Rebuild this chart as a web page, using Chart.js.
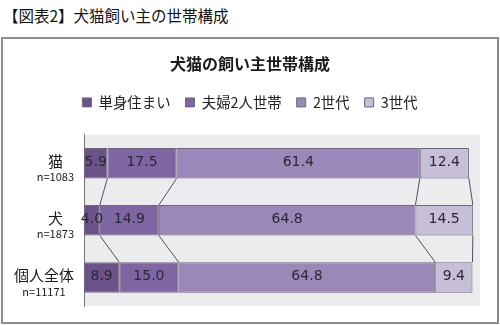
<!DOCTYPE html>
<html>
<head>
<meta charset="utf-8">
<script src="https://cdn.jsdelivr.net/npm/chart.js"></script>
<style>
  html, body { margin: 0; padding: 0; background: #fff; width: 500px; height: 325px; overflow: hidden; }
  #heading { position: absolute; left: 3px; top: 4px; font: 15.5px "Noto Sans CJK JP", sans-serif; color: #111; white-space: nowrap; }
  #frame { position: absolute; left: 1px; top: 37px; width: 494px; height: 283px; border: 2px solid #8e8e8e; }
  #wrap { position: absolute; left: 0; top: 0; width: 500px; height: 325px; }
</style>
</head>
<body>
<div id="heading">【図表2】犬猫飼い主の世帯構成</div>
<div id="frame"></div>
<div id="wrap"><canvas id="chart"></canvas></div>
<script>
// Household types of pet owners (%)
const categories  = ['猫', '犬', '個人全体'];
const sampleSizes = ['n=1083', 'n=1873', 'n=11171'];
const seriesNames = ['単身住まい', '夫婦2人世帯', '2世代', '3世代'];
const singleLiving = [5.9, 4.0, 8.9];
const coupleOnly   = [17.5, 14.9, 15.0];
const twoGen       = [61.4, 64.8, 64.8];
const threeGen     = [12.4, 14.5, 9.4];

const seriesValues = [singleLiving, coupleOnly, twoGen, threeGen];
const seriesColors = ['#6b5289', '#8065a3', '#9c88b8', '#c7bfd7'];

const JP = '"Noto Sans CJK JP", sans-serif';

// light grey plot area
const plotBackground = {
  id: 'plotBackground',
  beforeDraw(chart) {
    const { ctx, chartArea: a } = chart;
    ctx.save();
    ctx.fillStyle = '#ecebee';
    ctx.fillRect(a.left, a.top, a.right - a.left, a.bottom - a.top);
    ctx.restore();
  }
};

// connector lines between segment edges of adjacent bars
const seriesLines = {
  id: 'seriesLines',
  afterDatasetsDraw(chart) {
    const { ctx } = chart;
    ctx.save();
    ctx.strokeStyle = '#505060';
    ctx.lineWidth = 1;
    seriesValues.forEach((_, d) => {
      const els = chart.getDatasetMeta(d).data;
      for (let i = 0; i < els.length - 1; i++) {
        const a = els[i], b = els[i + 1];
        ctx.beginPath();
        ctx.moveTo(a.x, a.y + a.height / 2);
        ctx.lineTo(b.x, b.y - b.height / 2);
        ctx.stroke();
      }
    });
    ctx.restore();
  }
};

// value labels centred in each segment
const valueLabels = {
  id: 'valueLabels',
  afterDatasetsDraw(chart) {
    const { ctx } = chart;
    ctx.save();
    ctx.font = '14px "DejaVu Sans", sans-serif';
    ctx.fillStyle = '#2a2838';
    ctx.textAlign = 'center';
    ctx.textBaseline = 'middle';
    seriesValues.forEach((vals, d) => {
      chart.getDatasetMeta(d).data.forEach((el, i) => {
        ctx.fillText(vals[i].toFixed(1), (el.x + el.base) / 2, el.y - 1);
      });
    });
    ctx.restore();
  }
};

// two-line category labels: name and sample size
const categoryLabels = {
  id: 'categoryLabels',
  afterDraw(chart) {
    const { ctx, chartArea } = chart;
    const y = chart.scales.y;
    ctx.save();
    ctx.textAlign = 'center';
    ctx.textBaseline = 'middle';
    ctx.fillStyle = '#1a1a1a';
    categories.forEach((name, i) => {
      const yc = y.getPixelForValue(i);
      const mainFont = '15px ' + JP;
      const subFont = '11px ' + JP;
      ctx.font = mainFont;
      const w1 = ctx.measureText(name).width;
      ctx.font = subFont;
      const w2 = ctx.measureText(sampleSizes[i]).width;
      const cx = chartArea.left - 10 - Math.max(w1, w2) / 2;
      ctx.font = mainFont;
      ctx.fillText(name, cx, yc - 2);
      ctx.font = subFont;
      ctx.fillText(sampleSizes[i], cx, yc + 14);
    });
    ctx.restore();
  }
};

new Chart(document.getElementById('chart'), {
  type: 'bar',
  data: {
    labels: categories,
    datasets: seriesNames.map((name, d) => ({
      label: name,
      data: seriesValues[d],
      backgroundColor: seriesColors[d],
      borderColor: '#6c687c',
      borderWidth: 1,
      borderSkipped: false,
      categoryPercentage: 1,
      barPercentage: 0.535
    }))
  },
  options: {
    indexAxis: 'y',
    responsive: true,
    maintainAspectRatio: false,
    animation: false,
    layout: { padding: { left: 20, right: 20, top: 44, bottom: 19 } },
    plugins: {
      title: {
        display: true,
        text: '犬猫の飼い主世帯構成',
        color: '#1a1a1a',
        font: { family: JP, size: 16, weight: 'bold' },
        padding: { top: 10, bottom: 7 }
      },
      legend: {
        display: true,
        position: 'top',
        labels: {
          color: '#222',
          font: { family: JP, size: 14.4 },
          boxWidth: 9,
          boxHeight: 9,
          padding: 15
        }
      },
      tooltip: { enabled: false }
    },
    scales: {
      x: {
        stacked: true,
        min: 0,
        max: 100,
        position: 'top',
        ticks: { display: false },
        grid: { display: false, drawTicks: false },
        border: { display: false },
        afterFit(scale) { scale.height = 15; }
      },
      y: {
        stacked: true,
        ticks: { display: false },
        grid: { display: false, drawTicks: false },
        border: { display: true, color: '#7a7a7a', width: 1 },
        afterFit(scale) { scale.width = 64; }
      }
    }
  },
  plugins: [plotBackground, seriesLines, valueLabels, categoryLabels]
});
</script>
</body>
</html>
